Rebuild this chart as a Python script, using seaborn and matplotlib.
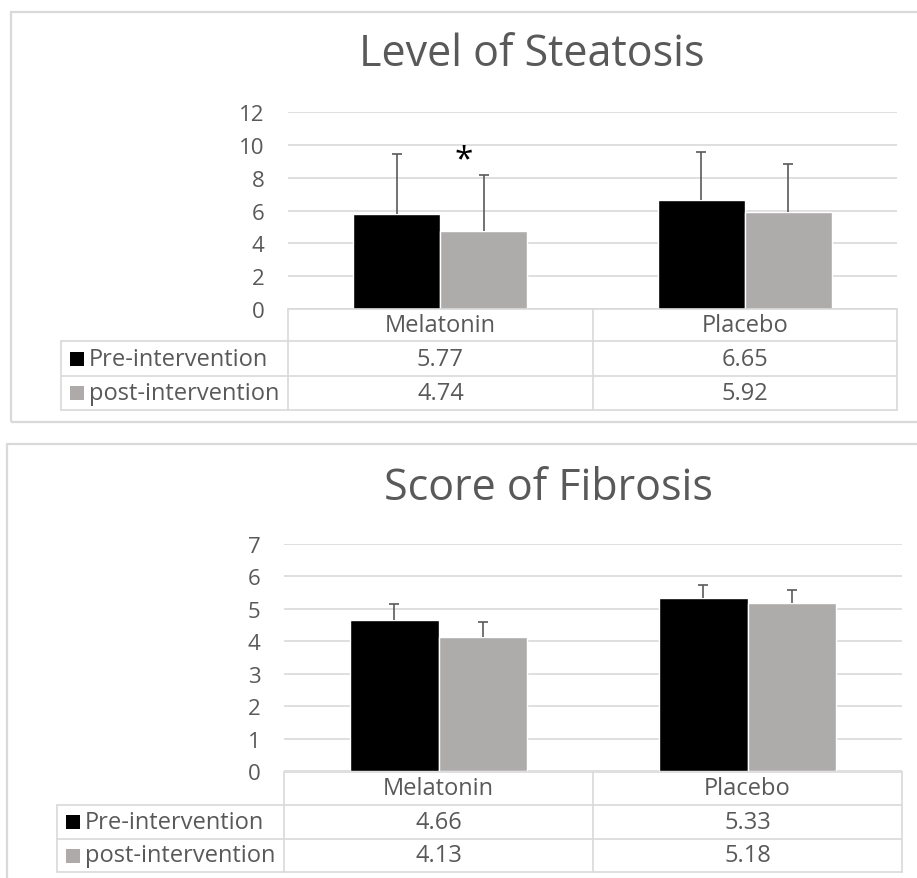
import pandas as pd
import seaborn as sns
import matplotlib.pyplot as plt
from matplotlib.lines import Line2D
from matplotlib.patches import Rectangle

# values
groups = ['Melatonin', 'Placebo']
phases = ['Pre-intervention', 'post-intervention']

steatosis_pre = [5.77, 6.65]
steatosis_post = [4.74, 5.92]
steatosis_pre_sd = [3.70, 2.94]
steatosis_post_sd = [3.41, 2.92]
steatosis_ticks = [0, 2, 4, 6, 8, 10, 12]

fibrosis_pre = [4.66, 5.33]
fibrosis_post = [4.13, 5.18]
fibrosis_pre_sd = [0.48, 0.40]
fibrosis_post_sd = [0.45, 0.40]
fibrosis_ticks = [0, 1, 2, 3, 4, 5, 6, 7]

colors = ['black', '#AEAAAA']
text_color = '#595959'
line_color = '#D9D9D9'

W, H = 917, 879

sns.set_theme(style='white')
plt.rcParams['font.family'] = ['Open Sans', 'DejaVu Sans']

fig = plt.figure(figsize=(W / 100, H / 100), dpi=100)


def fx(x):
    return x / W


def fy(y):
    return 1 - y / H


def hline(y, x0, x1):
    fig.add_artist(Line2D([fx(x0), fx(x1)], [fy(y), fy(y)], color=line_color, lw=1.2,
                          transform=fig.transFigure))


def vline(x, y0, y1):
    fig.add_artist(Line2D([fx(x), fx(x)], [fy(y0), fy(y1)], color=line_color, lw=1.2,
                          transform=fig.transFigure))


def draw_panel(frame, title, title_xy, ax_box, ticks, pre, post, pre_sd, post_sd, rows, cols):
    # outer chart frame (runs off the right/bottom of the picture)
    fx0, fy0, fx1, fy1 = frame
    fig.add_artist(Rectangle((fx(fx0), fy(fy1)), fx(fx1) - fx(fx0), fy(fy0) - fy(fy1),
                             fill=False, edgecolor=line_color, lw=1.6,
                             transform=fig.transFigure))
    fig.text(fx(title_xy[0]), fy(title_xy[1]), title, ha='center', va='center',
             fontsize=31, color=text_color)

    x0, x1, y0, ytop = ax_box
    ax = fig.add_axes([fx(x0), fy(y0), fx(x1) - fx(x0), fy(ytop) - fy(y0)])
    df = pd.DataFrame({
        'group': groups * 2,
        'phase': [phases[0]] * 2 + [phases[1]] * 2,
        'value': pre + post,
    })
    sns.barplot(data=df, x='group', y='value', hue='phase', palette=colors,
                width=0.57, errorbar=None, legend=False, ax=ax, zorder=2)
    sds = pre_sd + post_sd
    xs = [p.get_x() + p.get_width() / 2 for p in ax.patches]
    hs = [p.get_height() for p in ax.patches]
    eb = ax.errorbar(xs, hs, yerr=[[0] * len(sds), sds], fmt='none', ecolor='#5A5A5A',
                     elinewidth=1.2, capsize=3.3, capthick=1.2, zorder=3)
    eb.lines[1][0].set_visible(False)  # plus-only error bars
    ax.set_xlim(-0.5, 1.5)
    ax.set_ylim(ticks[0], ticks[-1])
    ax.set_yticks(ticks)
    ax.yaxis.grid(True, color=line_color, lw=1.2, zorder=0)
    ax.set_axisbelow(True)
    ax.tick_params(axis='y', length=0, pad=17, labelsize=16, labelcolor=text_color)
    ax.set_xticks([])
    ax.set_xlabel('')
    ax.set_ylabel('')
    for s in ax.spines.values():
        s.set_visible(False)

    # data table under the bars
    r0, r1, r2, r3 = rows
    left, mid, div, right = cols
    hline(r0, mid, right)
    for r in (r1, r2, r3):
        hline(r, left, right)
    vline(left, r1, r3)
    for c in (mid, div, right):
        vline(c, r0, r3)
    centers = [(mid + div) / 2, (div + right) / 2]
    for c, g in zip(centers, groups):
        fig.text(fx(c), fy((r0 + r1) / 2), g, ha='center', va='center',
                 fontsize=17, color=text_color)
    for (ra, rb), vals, col, lab in zip([(r1, r2), (r2, r3)], [pre, post], colors, phases):
        ym = (ra + rb) / 2
        fig.add_artist(Rectangle((fx(left + 9), fy(ym + 7)), 14 / W, 14 / H,
                                 facecolor=col, edgecolor='none', transform=fig.transFigure))
        fig.text(fx(left + 28), fy(ym), lab, ha='left', va='center',
                 fontsize=17, color=text_color)
        for c, v in zip(centers, vals):
            fig.text(fx(c), fy(ym), f'{v:.2f}', ha='center', va='center',
                     fontsize=17, color=text_color)
    return ax, xs


ax1, xs1 = draw_panel((11, 13, 1000, 423), 'Level of Steatosis', (532, 55),
                      (288, 897, 310, 113), steatosis_ticks,
                      steatosis_pre, steatosis_post, steatosis_pre_sd, steatosis_post_sd,
                      (310, 342, 377, 411), (61, 288, 593, 897))
# significance mark over melatonin post-intervention
ax1.text(xs1[2] - 0.065, 9.1, '*', ha='center', va='center', fontsize=24, color='black')

draw_panel((7, 445, 1000, 1000), 'Score of Fibrosis', (548, 489),
           (284, 902, 772, 545), fibrosis_ticks,
           fibrosis_pre, fibrosis_post, fibrosis_pre_sd, fibrosis_post_sd,
           (773, 806, 840, 873), (57, 284, 593, 902))

fig.savefig('out.png', dpi=100)
